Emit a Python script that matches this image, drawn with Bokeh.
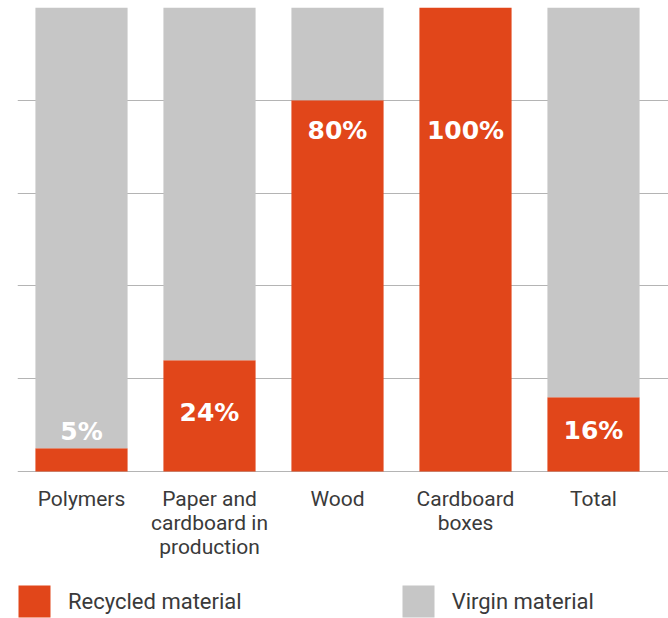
from bokeh.plotting import figure
from bokeh.models import ColumnDataSource, Range1d, FixedTicker, Legend, LegendItem
from bokeh.core.properties import value
from bokeh.embed import file_html
from bokeh.resources import INLINE

categories = ["Polymers", "Paper and\ncardboard in\nproduction", "Wood", "Cardboard\nboxes", "Total"]
recycled = [5, 24, 80, 100, 16]
virgin = [95, 76, 20, 0, 84]
labels = ["5%", "24%", "80%", "100%", "16%"]
label_y = [8.6, 12.8, 73.4, 73.4, 8.9]
y_ticks = [0, 20, 40, 60, 80, 100]

ORANGE = "#E1461A"
GRAY = "#C6C6C6"

xs = list(range(len(categories)))
src = ColumnDataSource(dict(x=xs, recycled=recycled, virgin=virgin, lab=labels, ly=label_y,
                            cat=categories, base=[0] * len(xs)))

PX_PER_UNIT = 464 / 100  # frame: value 100 at top, 0 at 464 px below
p = figure(width=668, height=618, output_backend="svg", toolbar_location=None,
           x_range=Range1d(-0.5, -0.5 + 651 / 128),
           y_range=Range1d(-147 / PX_PER_UNIT, 100),
           min_border_left=17, min_border_right=0, min_border_top=7, min_border_bottom=0)
p.outline_line_color = None
p.background_fill_color = "white"
p.xaxis.visible = False
p.yaxis.visible = False
p.xgrid.visible = False
p.ygrid.ticker = FixedTicker(ticks=y_ticks)
p.ygrid.grid_line_color = "#B4B4B4"
p.ygrid.grid_line_width = 1

rs = p.vbar_stack(["recycled", "virgin"], x="x", width=0.72, source=src,
                  color=[ORANGE, GRAY], line_color=None)

p.text(x="x", y="ly", text="lab", source=src, text_color="white",
       text_font=value("DejaVu Sans"), text_font_style="bold", text_font_size="25px",
       text_align="center", text_baseline="middle")

# category labels under the bars
p.text(x="x", y="base", text="cat", source=src, text_color="#3A3A3A",
       text_font=value("Roboto"), text_font_size="21px", text_line_height=1.0,
       text_align="center", text_baseline="top", y_offset=15)

legend = Legend(items=[LegendItem(label="Recycled material", renderers=[rs[0]]),
                       LegendItem(label="Virgin material", renderers=[rs[1]])],
                orientation="horizontal", location=(-3, -3))
legend.glyph_width = 40
legend.glyph_height = 40
legend.label_text_font = "Roboto"
legend.label_text_font_size = "22px"
legend.label_text_color = "#3A3A3A"
legend.label_standoff = 14
legend.spacing = 156
legend.padding = 0
legend.margin = 0
legend.border_line_color = None
legend.background_fill_alpha = 0
p.add_layout(legend, "center")

open("out.html", "w").write(file_html(p, INLINE))
